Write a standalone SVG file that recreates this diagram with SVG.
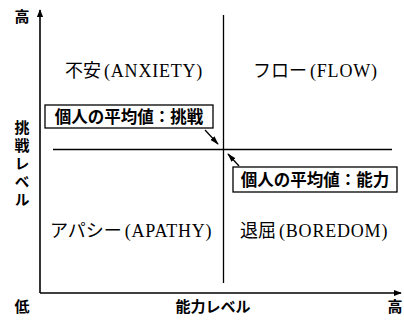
<svg xmlns="http://www.w3.org/2000/svg" width="404" height="324" viewBox="0 0 404 324">
<style>
.ax{stroke:#000;stroke-width:1.6;fill:none}
.ln{stroke:#000;stroke-width:1.3;fill:none}
.q{font-family:"Liberation Serif","Noto Sans CJK JP",serif;font-size:18px;fill:#000}
.q tspan{letter-spacing:0.8px}
.g{font-family:"Noto Sans CJK JP","Noto Sans",sans-serif;font-size:15px;font-weight:bold;fill:#000}
.v{writing-mode:vertical-rl;letter-spacing:3px}
.b{font-family:"Noto Sans CJK JP","Noto Sans",sans-serif;font-size:16.5px;font-weight:bold;fill:#000}
.box{fill:#fff;stroke:#000;stroke-width:1.3}
</style>
<defs>
<marker id="ah" viewBox="0 0 10 10" refX="9" refY="5" markerWidth="8" markerHeight="8" markerUnits="userSpaceOnUse" orient="auto">
<path d="M0,1 L10,5 L0,9 Z" fill="#000"/>
</marker>
<marker id="ah2" viewBox="0 0 10 10" refX="9" refY="5" markerWidth="9" markerHeight="9" markerUnits="userSpaceOnUse" orient="auto">
<path d="M0,2 L10,5 L0,8 Z" fill="#000"/>
</marker>
</defs>
<g id="connectors">
<line class="ax" x1="40" y1="293" x2="40" y2="10" marker-end="url(#ah)"/>
<line class="ax" x1="40" y1="293" x2="401" y2="293" marker-end="url(#ah)"/>
<line class="ln" x1="223.5" y1="15" x2="223.5" y2="283"/>
<line class="ln" x1="53" y1="149.5" x2="392" y2="149.5"/>
<line class="ln" x1="205" y1="130" x2="218" y2="144" marker-end="url(#ah2)"/>
<line class="ln" x1="239" y1="166" x2="228" y2="154" marker-end="url(#ah2)"/>
</g>
<g id="axis-labels">
<text class="g" x="22" y="22" text-anchor="middle">高</text>
<text class="g" x="22" y="312" text-anchor="middle">低</text>
<text class="g" x="395" y="312" text-anchor="middle">高</text>
<text class="g" x="213" y="312" text-anchor="middle">能力レベル</text>
<text class="g v" x="22" y="120">挑戦レベル</text>
</g>
<g id="anxiety"><text class="q" x="65" y="77">不安<tspan dx="3">(ANXIETY)</tspan></text></g>
<g id="flow"><text class="q" x="253" y="77">フロー<tspan dx="3">(FLOW)</tspan></text></g>
<g id="apathy"><text class="q" x="50" y="237">アパシー<tspan dx="3">(APATHY)</tspan></text></g>
<g id="boredom"><text class="q" x="240" y="237">退屈<tspan dx="3">(BOREDOM)</tspan></text></g>
<g id="avg-challenge">
<rect class="box" x="45" y="105" width="168" height="23"/>
<text class="b" x="129" y="122.5" text-anchor="middle">個人の平均値：挑戦</text>
</g>
<g id="avg-skill">
<rect class="box" x="233" y="167" width="164" height="25"/>
<text class="b" x="315" y="185.5" text-anchor="middle">個人の平均値：能力</text>
</g>
</svg>
